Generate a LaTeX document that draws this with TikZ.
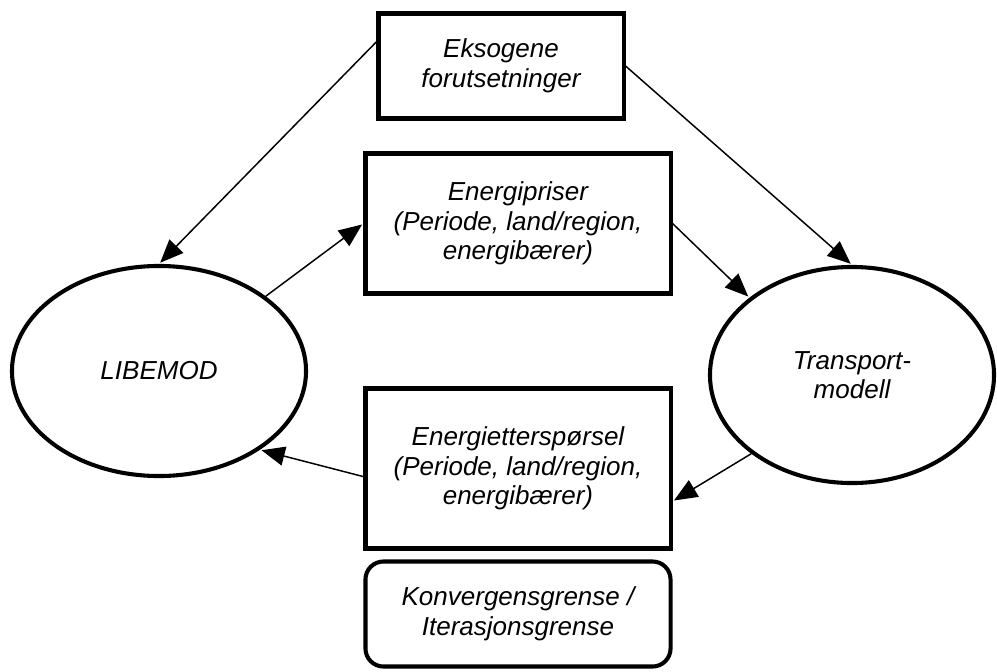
\documentclass[tikz,border=0pt]{standalone}
\usepackage{fontspec}
\setmainfont{Liberation Sans}
\usepackage{tikz}
\usetikzlibrary{arrows.meta}
\usetikzlibrary{shapes.geometric}

\begin{document}
\begin{tikzpicture}[x=0.025cm,y=-0.025cm,
		font=\fontsize{18.5}{21}\selectfont\itshape,
		boks/.style={draw,line width=2.9pt,align=center,inner sep=0pt},
		modell/.style={draw,ellipse,line width=2.9pt,align=center,inner sep=0pt},
		pil/.style={-{Triangle[length=0.58cm,width=0.48cm]},line width=1.05pt,shorten >=1.2pt}]
		\useasboundingbox (0,0) rectangle (997,671);
		
		\node[boks,minimum width=6.125cm,minimum height=2.625cm](eks) at (501,66) {Eksogene\\forutsetninger};
		\node[boks,minimum width=7.625cm,minimum height=3.5cm](pris) at (518,223.5) {Energipriser\\(Periode, land/region,\\energibærer)};
		\node[boks,minimum width=7.625cm,minimum height=4cm](ettersp) at (518,468.5) {Energietterspørsel\\(Periode, land/region,\\energibærer)};
		\node[boks,rounded corners=0.45cm,minimum width=7.625cm,minimum height=2.625cm](konv) at (518,614) {Konvergensgrense /\\Iterasjonsgrense};
		
		\node[modell,minimum width=7.35cm,minimum height=5.25cm](libemod) at (159,371) {LIBEMOD};
		\node[modell,minimum width=7.1cm,minimum height=5.4cm](transp) at (852,375) {Transport-\\modell};
		
		\draw[pil] (eks.169)--(libemod.north);
		\draw[pil] (eks.east)--(transp.north);
		\draw[pil] (libemod.35)--(pris.west);
		\draw[pil] (pris.east)--(transp.143);
		\draw[pil] (transp.218)--(ettersp.348);
		\draw[pil] (ettersp.183)--(libemod.322);
	\end{tikzpicture}
\end{document}
